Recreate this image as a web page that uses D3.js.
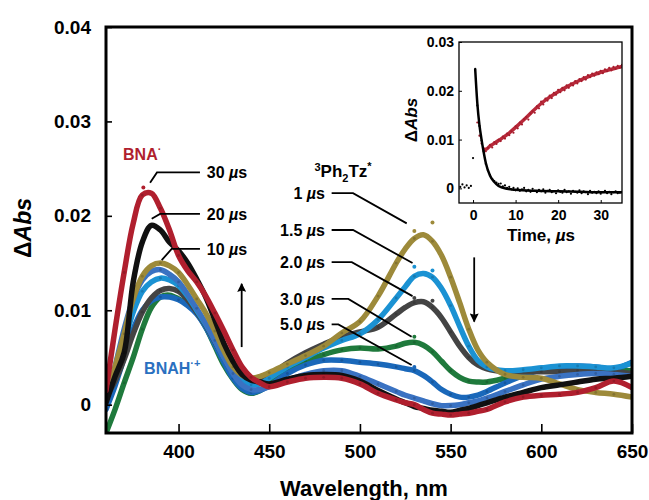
<!DOCTYPE html>
<html>
<head>
<meta charset="utf-8">
<script src="https://cdn.jsdelivr.net/npm/d3@7"></script>
<style>
  body { margin: 0; background: #fff; }
  svg { font-family: "Liberation Sans", Arial, Helvetica, sans-serif; font-weight: bold; }
</style>
</head>
<body>
<svg id="chart" width="649" height="500"></svg>
<script>
// wavelengths (nm) shared by all spectra
const wavelength = [360, 365, 370, 375, 380, 385, 390, 395, 400, 405, 410, 415, 420, 425, 430, 435, 440, 445, 450,
  460, 470, 480, 490, 500, 510, 520, 525, 530, 535, 540, 545, 550, 555, 560, 565, 570, 580, 590, 600, 610, 620, 630, 640, 650];

// transient spectra, ΔAbs
const us1 = [0.0005, 0.0040, 0.0075, 0.0112, 0.0136, 0.0147, 0.0150, 0.0147, 0.0140, 0.0127, 0.0112, 0.0097, 0.0078, 0.0057, 0.0040, 0.0031, 0.0028, 0.0030, 0.0034,
  0.0043, 0.0052, 0.0062, 0.0076, 0.0088, 0.0115, 0.0150, 0.0165, 0.0176, 0.0180, 0.0173, 0.0158, 0.0135, 0.0108, 0.0080, 0.0058, 0.0045, 0.0032, 0.0029, 0.0028, 0.0022, 0.0016, 0.0013, 0.0011, 0.0008];
const us1_5 = [0.0005, 0.0035, 0.0065, 0.0098, 0.0120, 0.0130, 0.0134, 0.0132, 0.0126, 0.0115, 0.0100, 0.0085, 0.0068, 0.0050, 0.0035, 0.0025, 0.0021, 0.0022, 0.0028,
  0.0040, 0.0050, 0.0060, 0.0068, 0.0075, 0.0090, 0.0113, 0.0125, 0.0136, 0.0139, 0.0135, 0.0123, 0.0105, 0.0083, 0.0062, 0.0047, 0.0040, 0.0036, 0.0037, 0.0039, 0.0041, 0.0041, 0.0040, 0.0039, 0.0044];
const us2 = [0.0008, 0.0025, 0.0048, 0.0075, 0.0098, 0.0113, 0.0121, 0.0123, 0.0120, 0.0111, 0.0098, 0.0084, 0.0067, 0.0050, 0.0034, 0.0025, 0.0022, 0.0024, 0.0030,
  0.0044, 0.0055, 0.0064, 0.0072, 0.0077, 0.0082, 0.0096, 0.0103, 0.0108, 0.0109, 0.0103, 0.0092, 0.0077, 0.0062, 0.0050, 0.0042, 0.0038, 0.0035, 0.0035, 0.0035, 0.0035, 0.0036, 0.0036, 0.0035, 0.0033];
const us3 = [-0.0030, -0.0005, 0.0023, 0.0050, 0.0080, 0.0103, 0.0114, 0.0116, 0.0112, 0.0106, 0.0097, 0.0082, 0.0062, 0.0042, 0.0027, 0.0016, 0.0012, 0.0015, 0.0022,
  0.0036, 0.0046, 0.0053, 0.0058, 0.0060, 0.0059, 0.0062, 0.0065, 0.0066, 0.0063, 0.0056, 0.0046, 0.0036, 0.0029, 0.0025, 0.0024, 0.0024, 0.0028, 0.0033, 0.0037, 0.0039, 0.0040, 0.0039, 0.0037, 0.0036];
const us5 = [-0.0005, 0.0020, 0.0050, 0.0080, 0.0100, 0.0110, 0.0114, 0.0114, 0.0111, 0.0105, 0.0096, 0.0082, 0.0064, 0.0045, 0.0028, 0.0017, 0.0013, 0.0015, 0.0020,
  0.0033, 0.0042, 0.0047, 0.0047, 0.0045, 0.0043, 0.0040, 0.0038, 0.0036, 0.0031, 0.0024, 0.0016, 0.0011, 0.0008, 0.0008, 0.0010, 0.0014, 0.0023, 0.0031, 0.0037, 0.0040, 0.0041, 0.0040, 0.0038, 0.0045];
const us10 = [0.0000, 0.0040, 0.0080, 0.0112, 0.0132, 0.0141, 0.0143, 0.0138, 0.0130, 0.0117, 0.0102, 0.0086, 0.0068, 0.0050, 0.0033, 0.0021, 0.0016, 0.0016, 0.0019,
  0.0026, 0.0032, 0.0036, 0.0036, 0.0030, 0.0022, 0.0014, 0.0010, 0.0007, 0.0004, 0.0001, -0.0001, -0.0001, 0.0000, 0.0002, 0.0004, 0.0007, 0.0014, 0.0021, 0.0027, 0.0030, 0.0032, 0.0033, 0.0032, 0.0030];
const us20 = [0.0002, 0.0030, 0.0055, 0.0130, 0.0172, 0.0190, 0.0185, 0.0172, 0.0163, 0.0150, 0.0133, 0.0114, 0.0090, 0.0065, 0.0046, 0.0032, 0.0026, 0.0024, 0.0022,
  0.0027, 0.0031, 0.0032, 0.0031, 0.0025, 0.0015, 0.0006, 0.0002, -0.0002, -0.0004, -0.0006, -0.0007, -0.0008, -0.0006, -0.0004, -0.0001, 0.0002, 0.0008, 0.0013, 0.0018, 0.0021, 0.0024, 0.0027, 0.0028, 0.0030];
const us30 = [0.0015, 0.0080, 0.0140, 0.0192, 0.0222, 0.0224, 0.0208, 0.0185, 0.0158, 0.0142, 0.0130, 0.0115, 0.0097, 0.0078, 0.0058, 0.0040, 0.0029, 0.0023, 0.0019,
  0.0024, 0.0028, 0.0029, 0.0028, 0.0022, 0.0012, 0.0005, 0.0002, 0.0000, -0.0005, -0.0009, -0.0010, -0.0011, -0.0010, -0.0009, -0.0007, -0.0005, 0.0003, 0.0008, 0.0010, 0.0011, 0.0013, 0.0018, 0.0025, 0.0018];

// raw points left off the smoothed traces near the 530 nm band
const dotWavelength = [530, 540];
const us1Dots = [0.0184, 0.0193];
const us1_5Dots = [0.0146, 0.0142];
const us2Dots = [0.0113, 0.0110];
const us3Dots = [0.0072, null];
const us5Dots = [0.0040, null];
const us30Dot = [380.6, 0.0230];

const series = [
  { label: "3.0", values: us3, dots: us3Dots, color: "#1f7a3c" },
  { label: "5.0", values: us5, dots: us5Dots, color: "#1a68ba" },
  { label: "2.0", values: us2, dots: us2Dots, color: "#444444" },
  { label: "1.5", values: us1_5, dots: us1_5Dots, color: "#1b92d3" },
  { label: "10", values: us10, dots: null, color: "#3a72c2" },
  { label: "1", values: us1, dots: us1Dots, color: "#9d8a3a" },
  { label: "20", values: us20, dots: null, color: "#111111" },
  { label: "30", values: us30, dots: null, color: "#b01f2e" }
];

// inset kinetics
const blackTime = [-3, -2.5, -2, -1.5, -1, -0.5, 0, 0.5, 1, 1.5, 2, 2.5, 3, 3.5, 4, 4.5, 5, 5.5, 6, 6.5, 7, 7.5, 8, 8.5, 9, 9.5, 10, 10.5,
  11, 11.5, 12, 12.5, 13, 13.5, 14, 14.5, 15, 15.5, 16, 16.5, 17, 17.5, 18, 18.5, 19, 19.5, 20, 20.5, 21, 21.5, 22, 22.5, 23, 23.5,
  24, 24.5, 25, 25.5, 26, 26.5, 27, 27.5, 28, 28.5, 29, 29.5, 30, 30.5, 31, 31.5, 32, 32.5, 33, 33.5, 34, 34.5, 35];
const blackAbs = [0.0003, 0.0008, 0.0002, 0.0006, 0.0001, 0.0005, 0.0062, 0.0245, 0.0170, 0.0128, 0.0098, 0.0076, 0.0050, 0.0037, 0.0027, 0.0019,
  0.0015, 0.0012, 0.0009, 0.0010, 0.0004, 0.0006, 0.0001, 0.0003, -0.0002, 0.0001, -0.0004, 0.0000, -0.0005, -0.0002, 0.0001, -0.0006,
  -0.0003, -0.0007, -0.0001, -0.0005, -0.0008, -0.0003, -0.0006, -0.0002, -0.0009, -0.0005, -0.0003, -0.0008, -0.0006, -0.0010, -0.0004,
  -0.0007, -0.0009, -0.0003, -0.0008, -0.0006, -0.0011, -0.0005, -0.0007, -0.0009, -0.0004, -0.0010, -0.0006, -0.0008, -0.0012, -0.0005,
  -0.0009, -0.0007, -0.0010, -0.0006, -0.0011, -0.0008, -0.0005, -0.0010, -0.0007, -0.0012, -0.0008, -0.0006, -0.0010, -0.0009, -0.0007];
const redTime = [1, 1.5, 2, 2.5, 3, 3.5, 4, 4.5, 5, 5.5, 6, 6.5, 7, 7.5, 8, 8.5, 9, 9.5, 10, 10.5, 11, 11.5, 12, 12.5, 13, 13.5, 14, 14.5,
  15, 15.5, 16, 16.5, 17, 17.5, 18, 18.5, 19, 19.5, 20, 20.5, 21, 21.5, 22, 22.5, 23, 23.5, 24, 24.5, 25, 25.5, 26, 26.5, 27, 27.5,
  28, 28.5, 29, 29.5, 30, 30.5, 31, 31.5, 32, 32.5, 33, 33.5, 34, 34.5, 35];
const redAbs = [0.0135, 0.0108, 0.0092, 0.0081, 0.0076, 0.0083, 0.0089, 0.0084, 0.0095, 0.0091, 0.0100, 0.0097, 0.0106, 0.0102, 0.0112, 0.0109,
  0.0117, 0.0114, 0.0127, 0.0123, 0.0135, 0.0131, 0.0142, 0.0146, 0.0141, 0.0153, 0.0158, 0.0155, 0.0168, 0.0164, 0.0178, 0.0172, 0.0184,
  0.0180, 0.0190, 0.0185, 0.0196, 0.0192, 0.0202, 0.0197, 0.0206, 0.0201, 0.0211, 0.0206, 0.0215, 0.0211, 0.0220, 0.0215, 0.0224, 0.0220,
  0.0228, 0.0223, 0.0232, 0.0228, 0.0235, 0.0231, 0.0238, 0.0234, 0.0241, 0.0236, 0.0244, 0.0240, 0.0247, 0.0242, 0.0249, 0.0245, 0.0251, 0.0247, 0.0253];
const blackFitTime = [0.5, 1, 1.5, 2, 2.5, 3, 4, 5, 6, 8, 10, 15, 20, 25, 30, 35];
const blackFit = [0.0245, 0.0175, 0.0130, 0.0100, 0.0074, 0.0052, 0.0026, 0.0013, 0.0005, -0.0001, -0.0003, -0.0005, -0.0006, -0.0007, -0.0008, -0.0008];
const redFitTime = [2.5, 3, 4, 6, 8, 10, 12, 14, 16, 18, 20, 22, 24, 26, 28, 30, 32, 35];
const redFit = [0.0080, 0.0080, 0.0087, 0.0098, 0.0110, 0.0125, 0.0141, 0.0158, 0.0174, 0.0187, 0.0198, 0.0208, 0.0217, 0.0225, 0.0232, 0.0238, 0.0243, 0.0250];

const yTicks = [0, 0.01, 0.02, 0.03, 0.04];
const xTicks = [400, 450, 500, 550, 600, 650];
const insetYTicks = [0, 0.01, 0.02, 0.03];
const insetXTicks = [0, 10, 20, 30];

const svg = d3.select("#chart");
const pLeft = 106, pRight = 632, pTop = 27, pBottom = 433;

const x = d3.scaleLinear().domain([360, 650]).range([pLeft, pRight]);
const y = d3.scaleLinear().domain([-0.003, 0.04]).range([pBottom, pTop]);
const fmt = (d) => (d === 0 ? "0" : d3.format(".2f")(d));

const defs = svg.append("defs");
defs.append("clipPath").attr("id", "plotClip")
  .append("rect").attr("x", pLeft).attr("y", pTop).attr("width", pRight - pLeft).attr("height", pBottom - pTop);
defs.append("marker").attr("id", "head")
  .attr("viewBox", "0 0 10 10").attr("refX", 9).attr("refY", 5)
  .attr("markerWidth", 16).attr("markerHeight", 9).attr("markerUnits", "userSpaceOnUse")
  .attr("orient", "auto")
  .append("path").attr("d", "M0,0 L10,5 L0,10 L1.5,5 Z").attr("fill", "#000");

// spectra
const line = d3.line()
  .x((d) => x(d[0]))
  .y((d) => y(d[1]))
  .curve(d3.curveCatmullRom.alpha(0.5));
const plot = svg.append("g").attr("clip-path", "url(#plotClip)");
series.forEach((s) => {
  const pts = wavelength.map((w, i) => [w, s.values[i]]);
  plot.append("path").attr("d", line(pts))
    .attr("fill", "none").attr("stroke", s.color)
    .attr("stroke-width", 5.5).attr("stroke-linejoin", "round").attr("stroke-linecap", "round");
  plot.selectAll(null)
    .data(pts.filter((d) => d[0] % 10 === 0))
    .enter().append("circle")
    .attr("cx", (d) => x(d[0])).attr("cy", (d) => y(d[1]))
    .attr("r", 1.4).attr("fill", d3.color(s.color).darker(0.5));
  if (s.dots) {
    plot.selectAll(null)
      .data(dotWavelength.map((w, i) => [w, s.dots[i]]).filter((d) => d[1] !== null))
      .enter().append("circle")
      .attr("cx", (d) => x(d[0])).attr("cy", (d) => y(d[1]))
      .attr("r", 2).attr("fill", s.color);
  }
});
plot.append("circle").attr("cx", x(us30Dot[0])).attr("cy", y(us30Dot[1])).attr("r", 2).attr("fill", "#b01f2e");

// axes
const yAxis = d3.axisLeft(y).tickValues(yTicks).tickSizeInner(-6).tickSizeOuter(0).tickPadding(15).tickFormat(fmt);
const gy = svg.append("g").attr("transform", `translate(${pLeft},0)`).call(yAxis);
const xAxis = d3.axisBottom(x).tickValues(xTicks).tickSizeInner(-9).tickSizeOuter(0).tickPadding(12);
const gx = svg.append("g").attr("transform", `translate(0,${pBottom})`).call(xAxis);
[gx, gy].forEach((g) => {
  g.select(".domain").remove();
  g.selectAll("line").attr("stroke-width", 1.6);
  g.selectAll("text").attr("font-size", 19).attr("font-family", null).attr("fill", "#000");
});
svg.append("rect").attr("x", pLeft).attr("y", pTop).attr("width", pRight - pLeft).attr("height", pBottom - pTop)
  .attr("fill", "none").attr("stroke", "#000").attr("stroke-width", 3);

svg.append("text").attr("x", 364).attr("y", 496).attr("text-anchor", "middle")
  .attr("font-size", 22).text("Wavelength, nm");
const yl = svg.append("text").attr("transform", "translate(31,228) rotate(-90)")
  .attr("text-anchor", "middle").attr("font-size", 23);
yl.append("tspan").text("Δ");
yl.append("tspan").attr("font-style", "italic").text("Abs");

// annotations (data units)
function usLabel(g, txt) {
  g.append("tspan").text(txt + " ");
  g.append("tspan").attr("font-style", "italic").text("µ");
  g.append("tspan").text("s");
}
const leftNotes = [
  { label: "30", path: [[384.3, 0.0235], [388.1, 0.0246], [411.8, 0.0246]] },
  { label: "20", path: [[385.2, 0.0197], [389.8, 0.0202], [411.8, 0.0202]] },
  { label: "10", path: [[390.7, 0.0153], [396.2, 0.0165], [411.8, 0.0165]] }
];
const rightNotes = [
  { label: "1", v: 0.0224, knee: 496.2, end: [525.8, 0.0192] },
  { label: "1.5", v: 0.0185, knee: 496.2, end: [529.0, 0.0150] },
  { label: "2.0", v: 0.0151, knee: 495.5, end: [529.0, 0.0115] },
  { label: "3.0", v: 0.0112, knee: 493.6, end: [528.5, 0.0072] },
  { label: "5.0", v: 0.0085, knee: 488.1, end: [528.5, 0.0042] }
];
const plain = d3.line().x((d) => x(d[0])).y((d) => y(d[1]));
leftNotes.forEach((n) => {
  svg.append("path").attr("d", plain(n.path)).attr("fill", "none").attr("stroke", "#000").attr("stroke-width", 1.8);
  const t = svg.append("text").attr("x", x(415.6)).attr("y", y(n.path[2][1])).attr("dy", "0.36em").attr("font-size", 16);
  usLabel(t, n.label);
});
rightNotes.forEach((n) => {
  svg.append("path").attr("d", plain([[484.4, n.v], [n.knee, n.v], n.end]))
    .attr("fill", "none").attr("stroke", "#000").attr("stroke-width", 1.8);
  const t = svg.append("text").attr("x", x(480.7)).attr("y", y(n.v)).attr("dy", "0.36em")
    .attr("text-anchor", "end").attr("font-size", 16);
  usLabel(t, n.label);
});

const ph = svg.append("text").attr("x", x(490.7)).attr("y", y(0.0241)).attr("text-anchor", "middle").attr("font-size", 17);
ph.append("tspan").attr("font-size", 11).attr("dy", -6).text("3");
ph.append("tspan").attr("dy", 6).text("Ph");
ph.append("tspan").attr("font-size", 11).attr("dy", 5).text("2");
ph.append("tspan").attr("dy", -5).text("Tz");
ph.append("tspan").attr("font-size", 11).attr("dy", -7).text("*");

const bna = svg.append("text").attr("x", x(369.4)).attr("y", y(0.0259)).attr("font-size", 16).attr("fill", "#b01f2e");
bna.append("tspan").text("BNA");
bna.append("tspan").attr("font-size", 11).attr("dy", -7).text("·");
const bnah = svg.append("text").attr("x", x(381)).attr("y", y(0.0033)).attr("font-size", 16).attr("fill", "#2a70c0");
bnah.append("tspan").text("BNAH");
bnah.append("tspan").attr("font-size", 11).attr("dy", -7).text("·+");

const arrows = [[[434.8, 0.0061], [434.8, 0.0128]], [[563.0, 0.0156], [563.0, 0.0088]]];
arrows.forEach((a) => {
  svg.append("path").attr("d", plain(a)).attr("stroke", "#000").attr("stroke-width", 1.8)
    .attr("marker-end", "url(#head)");
});

// inset
const il = 459, ir = 622, it = 42, ib = 203;
const ix = d3.scaleLinear().domain([-3.3, 35]).range([il, ir]);
const iy = d3.scaleLinear().domain([-0.003, 0.03]).range([ib, it]);
const inset = svg.append("g");
inset.append("rect").attr("x", il).attr("y", it).attr("width", ir - il).attr("height", ib - it).attr("fill", "#fff");
defs.append("clipPath").attr("id", "insetClip")
  .append("rect").attr("x", il).attr("y", it).attr("width", ir - il).attr("height", ib - it);
const ig = inset.append("g").attr("clip-path", "url(#insetClip)");
const iline = d3.line().x((d) => ix(d[0])).y((d) => iy(d[1])).curve(d3.curveMonotoneX);
ig.append("path").attr("d", iline(redFitTime.map((t, i) => [t, redFit[i]])))
  .attr("fill", "none").attr("stroke", "#b8293a").attr("stroke-width", 3.5);
ig.selectAll(".rd").data(redTime.map((t, i) => [t, redAbs[i]])).enter().append("circle")
  .attr("cx", (d) => ix(d[0])).attr("cy", (d) => iy(d[1])).attr("r", 1.1).attr("fill", "#a51c2c");
ig.append("path").attr("d", iline(blackFitTime.map((t, i) => [t, blackFit[i]])))
  .attr("fill", "none").attr("stroke", "#000").attr("stroke-width", 2.5);
ig.selectAll(".bd").data(blackTime.map((t, i) => [t, blackAbs[i]])).enter().append("circle")
  .attr("cx", (d) => ix(d[0])).attr("cy", (d) => iy(d[1])).attr("r", 1.1).attr("fill", "#000");

const iyAxis = d3.axisLeft(iy).tickValues(insetYTicks).tickSizeInner(-3).tickSizeOuter(0).tickPadding(5).tickFormat(fmt);
const ixAxis = d3.axisBottom(ix).tickValues(insetXTicks).tickSizeInner(-3).tickSizeOuter(0).tickPadding(7);
const giy = inset.append("g").attr("transform", `translate(${il},0)`).call(iyAxis);
const gix = inset.append("g").attr("transform", `translate(0,${ib})`).call(ixAxis);
[giy, gix].forEach((g) => {
  g.select(".domain").remove();
  g.selectAll("text").attr("font-size", 14).attr("font-family", null).attr("fill", "#000");
});
inset.append("rect").attr("x", il).attr("y", it).attr("width", ir - il).attr("height", ib - it)
  .attr("fill", "none").attr("stroke", "#000").attr("stroke-width", 1.3);
inset.append("text").attr("x", 541).attr("y", 241).attr("text-anchor", "middle").attr("font-size", 17)
  .call((t) => { t.append("tspan").text("Time, "); t.append("tspan").attr("font-style", "italic").text("µ"); t.append("tspan").text("s"); });
const iyl = inset.append("text").attr("transform", "translate(417,120) rotate(-90)")
  .attr("text-anchor", "middle").attr("font-size", 17);
iyl.append("tspan").text("Δ");
iyl.append("tspan").attr("font-style", "italic").text("Abs");
</script>
</body>
</html>
